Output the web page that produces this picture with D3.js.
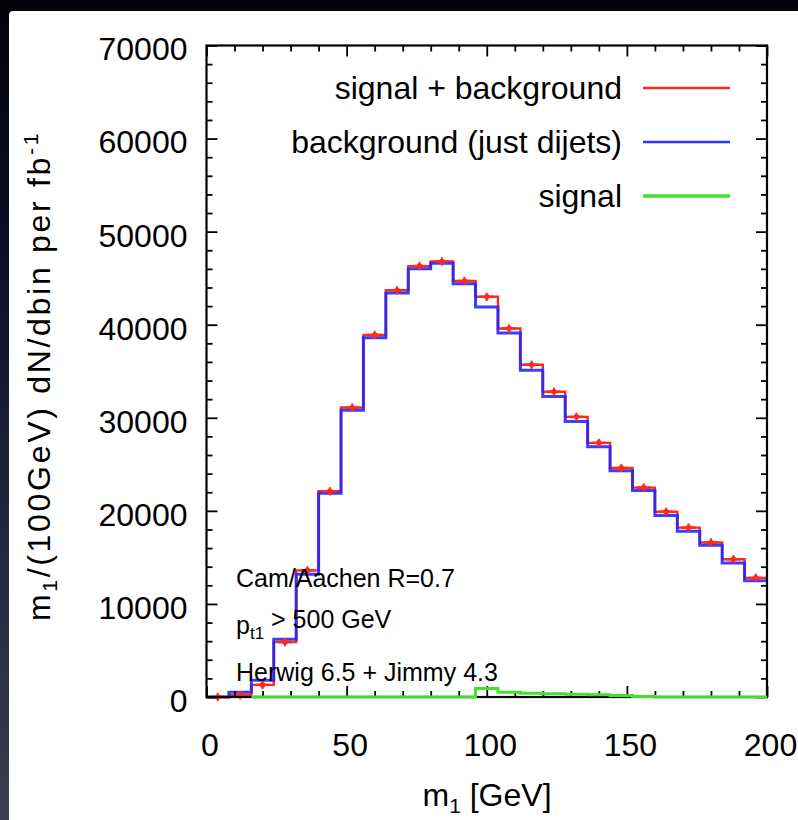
<!DOCTYPE html>
<html>
<head>
<meta charset="utf-8">
<script src="https://cdn.jsdelivr.net/npm/d3@7"></script>
<style>
  html, body { margin: 0; padding: 0; background: #02030a; }
  svg { display: block; }
  text { font-family: "Liberation Sans", Arial, Helvetica, sans-serif; fill: #000; }
</style>
</head>
<body>
<svg id="chart" width="798" height="820"></svg>
<script>
// Lower edges of the 8 GeV mass bins
const binLow = [0, 8, 16, 24, 32, 40, 48, 56, 64, 72, 80, 88, 96, 104, 112, 120, 128, 136, 144, 152, 160, 168, 176, 184, 192];
const binWidth = 8;

// Events per bin (m1/(100 GeV) dN/dbin per fb^-1)
const signalPlusBackground = [0, 200, 1300, 5900, 13600, 22100, 31100, 38900, 43700, 46300, 46800, 44700, 43000, 39600, 35700, 32800, 30100, 27300, 24600, 22500, 19900, 18200, 16600, 14800, 12800];
const backgroundDijets    = [0, 500, 1800, 6200, 13200, 21900, 30800, 38600, 43400, 46000, 46600, 44400, 41900, 39100, 35100, 32300, 29600, 26900, 24300, 22200, 19500, 17800, 16300, 14400, 12500];
const signalOnly          = [null, null, 0, 0, 0, 0, 0, 0, 0, 0, 0, 0, 900, 500, 400, 350, 300, 250, 150, 50, 0, 0, 0, 0, 0];
const errorHalf = 450;

// Axis ticks
const xMajorTicks = [0, 50, 100, 150, 200];
const xMinorTicks = [10, 20, 30, 40, 60, 70, 80, 90, 110, 120, 130, 140, 160, 170, 180, 190];
const yMajorTicks = [0, 10000, 20000, 30000, 40000, 50000, 60000, 70000];
const yMinorTicks = [2000, 4000, 6000, 8000, 12000, 14000, 16000, 18000, 22000, 24000, 26000, 28000, 32000, 34000, 36000, 38000, 42000, 44000, 46000, 48000, 52000, 54000, 56000, 58000, 62000, 64000, 66000, 68000];

const legendItems = [
  { label: "signal + background", color: "#ff2a1a" },
  { label: "background (just dijets)", color: "#3030ff" },
  { label: "signal", color: "#44e030" }
];

const W = 798, H = 820;
const frame = { left: 206.5, top: 45.5, right: 767, bottom: 697 };
const FONT = "'Liberation Sans', Arial, sans-serif";

const svg = d3.select("#chart");

// Slide backdrop: dark gradient with a white panel
const defs = svg.append("defs");
const grad = defs.append("linearGradient").attr("id", "backdrop").attr("x1", 0).attr("y1", 0).attr("x2", 0).attr("y2", 1);
grad.append("stop").attr("offset", "0%").attr("stop-color", "#02030b");
grad.append("stop").attr("offset", "30%").attr("stop-color", "#0d0e22");
grad.append("stop").attr("offset", "75%").attr("stop-color", "#2a2c40");
grad.append("stop").attr("offset", "100%").attr("stop-color", "#3c3e4e");
svg.append("rect").attr("width", W).attr("height", H).attr("fill", "url(#backdrop)");
svg.append("rect").attr("x", 9).attr("y", 11).attr("width", W).attr("height", H).attr("rx", 4).attr("fill", "#fff");

const x = d3.scaleLinear().domain([0, 200]).range([frame.left, frame.right]);
const y = d3.scaleLinear().domain([0, 70000]).range([frame.bottom, frame.top]);

const plot = svg.append("g");

// Build a step outline from per-bin values
function stepPoints(values) {
  const pts = [];
  let started = false;
  values.forEach((v, i) => {
    if (v === null) return;
    if (!started) { pts.push([binLow[i], 0]); started = true; }
    pts.push([binLow[i], v]);
    pts.push([binLow[i] + binWidth, v]);
  });
  return pts;
}
const stepLine = d3.line().x(d => x(d[0])).y(d => y(d[1]));

// signal + background: histogram outline
plot.append("path")
  .attr("d", stepLine(stepPoints(signalPlusBackground)))
  .attr("fill", "none").attr("stroke", "#ff2a1a").attr("stroke-width", 2.4);

// background (just dijets)
plot.append("path")
  .attr("d", stepLine(stepPoints(backgroundDijets)))
  .attr("fill", "none").attr("stroke", "#2222ff").attr("stroke-opacity", 0.88).attr("stroke-width", 3);

// signal + background: points with error bars
const pts = plot.append("g").selectAll("g").data(signalPlusBackground).join("g");
pts.append("line")
  .attr("x1", (d, i) => x(binLow[i] + binWidth / 2)).attr("x2", (d, i) => x(binLow[i] + binWidth / 2))
  .attr("y1", d => y(d - errorHalf)).attr("y2", d => y(d + errorHalf))
  .attr("stroke", "#ff2a1a").attr("stroke-width", 2);
pts.append("line")
  .attr("x1", (d, i) => x(binLow[i] + 1.5)).attr("x2", (d, i) => x(binLow[i] + binWidth - 1.5))
  .attr("y1", d => y(d)).attr("y2", d => y(d))
  .attr("stroke", "#ff2a1a").attr("stroke-width", 2.5);
pts.append("circle")
  .attr("cx", (d, i) => x(binLow[i] + binWidth / 2)).attr("cy", d => y(d))
  .attr("r", 2.8).attr("fill", "#ff2a1a");

// Frame and ticks
const axes = svg.append("g");
axes.append("rect")
  .attr("x", frame.left).attr("y", frame.top)
  .attr("width", frame.right - frame.left).attr("height", frame.bottom - frame.top)
  .attr("fill", "none").attr("stroke", "#000").attr("stroke-width", 2.2);

function drawAxis(gen, tx, ty) {
  const g = axes.append("g").attr("transform", `translate(${tx},${ty})`).call(gen);
  g.select(".domain").remove();
  g.selectAll(".tick line").attr("stroke", "#000").attr("stroke-width", 1.8);
  return g;
}
const yl = drawAxis(d3.axisLeft(y).tickValues(yMajorTicks).tickSize(-11).tickPadding(19).tickFormat(d3.format("d")), frame.left, 0);
yl.selectAll("text").attr("font-size", 32).attr("dy", "0.45em")
  .style("font-family", FONT).attr("fill", "#000");
drawAxis(d3.axisLeft(y).tickValues(yMinorTicks).tickSize(-6).tickFormat(""), frame.left, 0);
drawAxis(d3.axisRight(y).tickValues(yMajorTicks).tickSize(-11).tickFormat(""), frame.right, 0);
drawAxis(d3.axisRight(y).tickValues(yMinorTicks).tickSize(-6).tickFormat(""), frame.right, 0);

const xl = drawAxis(d3.axisBottom(x).tickValues(xMajorTicks).tickSize(-11).tickPadding(36).tickFormat(d3.format("d")), 0, frame.bottom);
xl.selectAll("text").attr("font-size", 32).attr("dx", 3)
  .style("font-family", FONT).attr("fill", "#000");
drawAxis(d3.axisBottom(x).tickValues(xMinorTicks).tickSize(-6).tickFormat(""), 0, frame.bottom);
drawAxis(d3.axisTop(x).tickValues(xMajorTicks).tickSize(-11).tickFormat(""), 0, frame.top);
drawAxis(d3.axisTop(x).tickValues(xMinorTicks).tickSize(-6).tickFormat(""), 0, frame.top);

// signal, drawn over the frame baseline
svg.append("path")
  .attr("d", stepLine(stepPoints(signalOnly)))
  .attr("fill", "none").attr("stroke", "#44e030").attr("stroke-width", 3);

// Legend
const legend = svg.append("g");
legendItems.forEach((it, i) => {
  const ly = 88 + i * 54;
  legend.append("text").attr("x", 622).attr("y", ly).attr("dy", "0.35em")
    .attr("text-anchor", "end").attr("font-size", 32).text(it.label);
  legend.append("line").attr("x1", 643).attr("x2", 730).attr("y1", ly).attr("y2", ly)
    .attr("stroke", it.color).attr("stroke-width", i === 2 ? 3.5 : 2.5);
});

// Run conditions
const notes = svg.append("g").attr("font-size", 25);
notes.append("text").attr("x", 236).attr("y", 578).attr("dy", "0.35em").text("Cam/Aachen R=0.7");
const pt = notes.append("text").attr("x", 236).attr("y", 625).attr("dy", "0.35em");
pt.append("tspan").text("p");
pt.append("tspan").attr("font-size", 17).attr("dy", "0.3em").text("t1");
pt.append("tspan").attr("dy", "-0.45em").text(" > 500 GeV");
notes.append("text").attr("x", 236).attr("y", 672).attr("dy", "0.35em").text("Herwig 6.5 + Jimmy 4.3");

// Axis titles
const xt = svg.append("text").attr("x", 487).attr("y", 806).attr("text-anchor", "middle").attr("font-size", 32);
xt.append("tspan").text("m");
xt.append("tspan").attr("font-size", 21).attr("dy", 7).text("1");
xt.append("tspan").attr("dy", -7).text(" [GeV]");

const yt = svg.append("text").attr("transform", "translate(50,376) rotate(-90)")
  .attr("text-anchor", "middle").attr("font-size", 32).attr("letter-spacing", 2.7);
yt.append("tspan").text("m");
yt.append("tspan").attr("font-size", 21).attr("dy", 7).text("1");
yt.append("tspan").attr("dy", -7).text("/(100GeV) dN/dbin per fb");
yt.append("tspan").attr("font-size", 21).attr("dy", -12).text("-1");
</script>
</body>
</html>
